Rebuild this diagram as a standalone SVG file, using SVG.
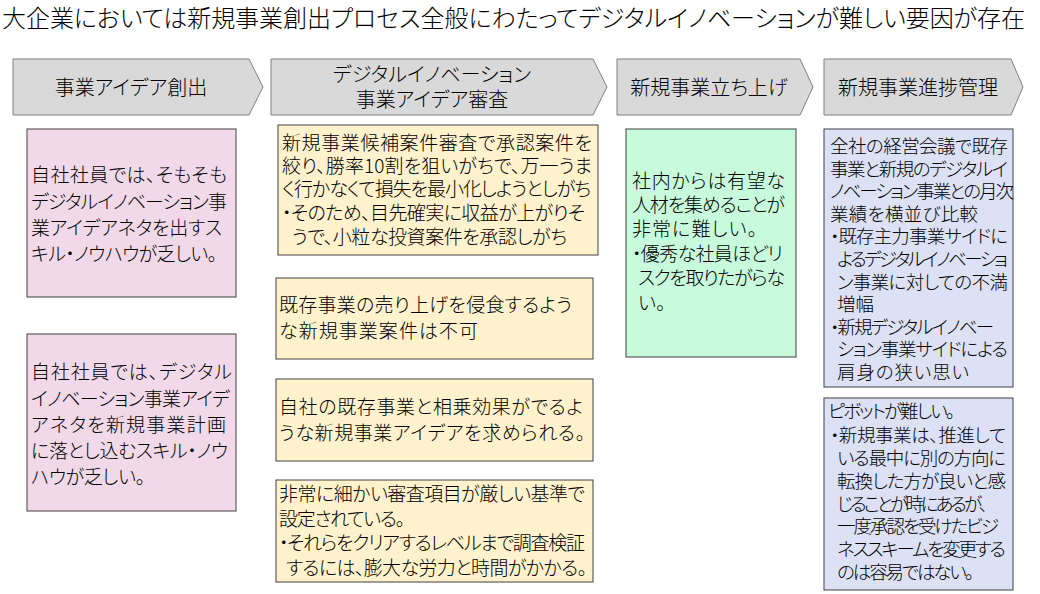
<svg xmlns="http://www.w3.org/2000/svg" width="1040" height="594" viewBox="0 0 1040 594">
<style>
text{font-family:"Noto Sans CJK JP","Noto Sans",sans-serif;fill:#000;font-weight:300;font-feature-settings:"palt";}
.title{font-size:24px;}
.chev{fill:#D9D9D9;stroke:#808080;stroke-width:1;}
.ct{font-size:20px;text-anchor:middle;}
.box{stroke:#404040;stroke-width:1;}
.pink{fill:#F1D9E9;}
.yel{fill:#FFF2CC;}
.grn{fill:#C7FBDB;}
.blu{fill:#DCE1F6;}
.t19{font-size:19px;}
.t18{font-size:18.5px;}
</style>
<rect width="1040" height="594" fill="#FFFFFF"/>
<g id="title">
<text class="title" x="2" y="27" textLength="1023" lengthAdjust="spacing">大企業においては新規事業創出プロセス全般にわたってデジタルイノベーションが難しい要因が存在</text>
</g>
<g id="phase1">
<polygon class="chev" points="13,59 249,59 263,87 249,115 13,115"/>
<text class="ct" x="131" y="95">事業アイデア創出</text>
</g>
<g id="phase2">
<polygon class="chev" points="271,59 593,59 607,87 593,115 271,115"/>
<text class="ct" x="432" y="82">デジタルイノベーション</text>
<text class="ct" x="432" y="107">事業アイデア審査</text>
</g>
<g id="phase3">
<polygon class="chev" points="617,59 800,59 813,87 800,115 617,115"/>
<text class="ct" x="709" y="95">新規事業立ち上げ</text>
</g>
<g id="phase4">
<polygon class="chev" points="824,59 1011,59 1023,87 1011,115 824,115"/>
<text class="ct" x="918" y="95">新規事業進捗管理</text>
</g>
<g id="idea1">
<rect class="box pink" x="27" y="129" width="209" height="168"/>
<text class="t19" x="31" y="182" textLength="196">自社社員では、そもそも</text>
<text class="t19" x="31" y="209" textLength="196">デジタルイノベーション事</text>
<text class="t19" x="31" y="235" textLength="191">業アイデアネタを出すス</text>
<text class="t19" x="31" y="261" textLength="186">キル・ノウハウが乏しい。</text>
</g>
<g id="idea2">
<rect class="box pink" x="27" y="334" width="209" height="177"/>
<text class="t19" x="31" y="379" textLength="201">自社社員では、デジタル</text>
<text class="t19" x="31" y="406" textLength="199">イノベーション事業アイデ</text>
<text class="t19" x="31" y="432" textLength="195">アネタを新規事業計画</text>
<text class="t19" x="31" y="458" textLength="197">に落とし込むスキル・ノウ</text>
<text class="t19" x="31" y="484" textLength="114">ハウが乏しい。</text>
</g>
<g id="review1">
<rect class="box yel" x="278" y="125" width="320" height="130"/>
<text class="t19" x="282" y="150" textLength="310">新規事業候補案件審査で承認案件を</text>
<text class="t19" x="282" y="173" textLength="310">絞り、勝率10割を狙いがちで、万一うま</text>
<text class="t19" x="282" y="196" textLength="309">く行かなくて損失を最小化しようとしがち</text>
<text class="t19" x="282" y="220" textLength="303">・そのため、目先確実に収益が上がりそ</text>
<text class="t19" x="292" y="244" textLength="275">うで、小粒な投資案件を承認しがち</text>
</g>
<g id="review2">
<rect class="box yel" x="276" y="278" width="317" height="81"/>
<text class="t19" x="279" y="312" textLength="293">既存事業の売り上げを侵食するよう</text>
<text class="t19" x="279" y="338" textLength="199">な新規事業案件は不可</text>
</g>
<g id="review3">
<rect class="box yel" x="276" y="379" width="317" height="82"/>
<text class="t19" x="279" y="414" textLength="304">自社の既存事業と相乗効果がでるよ</text>
<text class="t19" x="279" y="440" textLength="306">うな新規事業アイデアを求められる。</text>
</g>
<g id="review4">
<rect class="box yel" x="276" y="480" width="317" height="102"/>
<text class="t19" x="279" y="501" textLength="306">非常に細かい審査項目が厳しい基準で</text>
<text class="t19" x="279" y="526" textLength="126">設定されている。</text>
<text class="t19" x="279" y="550" textLength="306">・それらをクリアするレベルまで調査検証</text>
<text class="t19" x="286" y="575" textLength="301">するには、膨大な労力と時間がかかる。</text>
</g>
<g id="launch">
<rect class="box grn" x="626" y="129" width="170" height="228"/>
<text class="t19" x="632" y="188" textLength="153">社内からは有望な</text>
<text class="t19" x="632" y="212" textLength="153">人材を集めることが</text>
<text class="t19" x="632" y="236" textLength="125">非常に難しい。</text>
<text class="t19" x="632" y="261" textLength="151">・優秀な社員ほどリ</text>
<text class="t19" x="638" y="285" textLength="147">スクを取りたがらな</text>
<text class="t19" x="638" y="310">い。</text>
</g>
<g id="manage1">
<rect class="box blu" x="824" y="129" width="189" height="258"/>
<text class="t18" x="830" y="153" textLength="178">全社の経営会議で既存</text>
<text class="t18" x="830" y="176" textLength="178">事業と新規のデジタルイ</text>
<text class="t18" x="830" y="198" textLength="184">ノベーション事業との月次</text>
<text class="t18" x="830" y="221" textLength="148">業績を横並び比較</text>
<text class="t18" x="830" y="243" textLength="178">・既存主力事業サイドに</text>
<text class="t18" x="837" y="266" textLength="171">よるデジタルイノベーショ</text>
<text class="t18" x="837" y="289" textLength="171">ン事業に対しての不満</text>
<text class="t18" x="837" y="311">増幅</text>
<text class="t18" x="830" y="334" textLength="164">・新規デジタルイノベー</text>
<text class="t18" x="837" y="356" textLength="171">ション事業サイドによる</text>
<text class="t18" x="837" y="379" textLength="132">肩身の狭い思い</text>
</g>
<g id="manage2">
<rect class="box blu" x="824" y="398" width="189" height="192"/>
<text class="t18" x="828" y="418" textLength="127">ピボットが難しい。</text>
<text class="t18" x="830" y="442" textLength="176">・新規事業は、推進して</text>
<text class="t18" x="837" y="465" textLength="169">いる最中に別の方向に</text>
<text class="t18" x="837" y="488" textLength="169">転換した方が良いと感</text>
<text class="t18" x="837" y="511" textLength="151">じることが時にあるが、</text>
<text class="t18" x="837" y="533" textLength="162">一度承認を受けたビジ</text>
<text class="t18" x="837" y="556" textLength="169">ネススキームを変更する</text>
<text class="t18" x="837" y="579" textLength="137">のは容易ではない。</text>
</g>
</svg>
